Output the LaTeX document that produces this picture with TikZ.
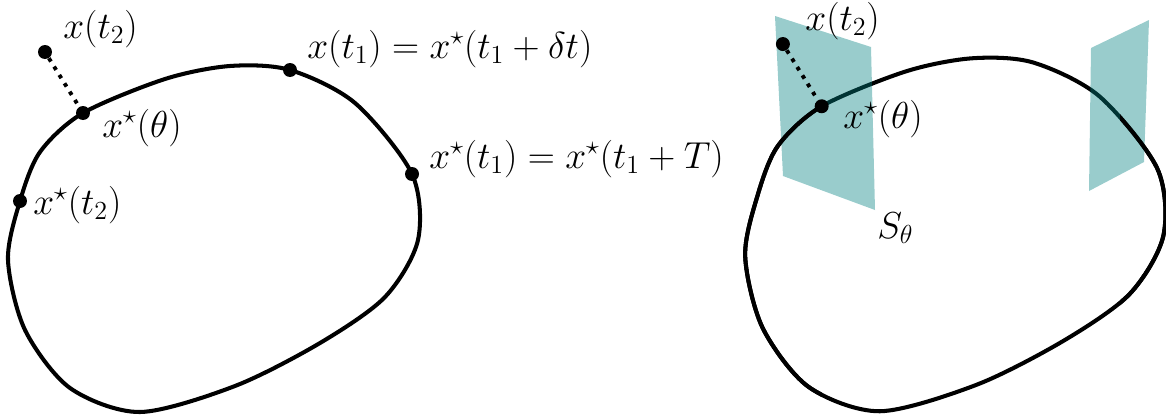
\documentclass[tikz,border=0pt]{standalone}
\tikzset{
  orbitpath/.style={insert path={plot[smooth cycle] coordinates{
    (8,260) (20,201) (40,152) (83,113) (165,79) (230,66) (290,70) (355,103)
    (412,174) (418,240) (385,297) (320,343) (235,386) (140,412) (70,388) (25,330)}}},
  orbit/.style={line width=2.3pt, black},
  dotpt/.style={circle, fill=black, inner sep=0pt, minimum size=0.28cm},
  lab/.style={inner sep=0pt, anchor=base west, font=\huge, scale=1.03, transform shape},
  dotline/.style={line width=2.2pt, dash pattern=on 2.2pt off 3.4pt},
  plane/.style={fill=teal, fill opacity=0.4, draw=none}
}
\begin{document}
\begin{tikzpicture}[x=0.02cm, y=-0.02cm]
\useasboundingbox (0,0) rectangle (1166,416);
% ---------- left ----------
\draw[orbit, orbitpath];
\node[dotpt] (L2s) at (20,201) {};
\node[dotpt] (Lth) at (83,113) {};
\node[dotpt] (Lt1) at (290,70) {};
\node[dotpt] (Lt1s) at (412,174) {};
\node[dotpt] (Lx2) at (45,52) {};
\draw[dotline] (Lx2) -- (Lth);
\node[lab] (lx2) at (63,38) {$x(t_2)$};
\node[lab] (lth) at (102,137) {$x^\star(\theta)$};
\node[lab] (lt2s) at (33,214) {$x^\star(t_2)$};
\node[lab] (lt1) at (307,58) {$x(t_1)=x^\star(t_1+\delta t)$};
\node[lab] (lt1s) at (429,168) {$x^\star(t_1)=x^\star(t_1+T)$};
% ---------- right ----------
\begin{scope}
\clip (0,0) rectangle (1166,416);
\begin{scope}[shift={(737,-9)}, scale=1.02]
\draw[orbit, orbitpath];
\end{scope}
\end{scope}
\fill[plane] (775,16) -- (871,47) -- (875,210) -- (783,176) -- cycle;
\fill[plane] (1091,48) -- (1149,20) -- (1144,162) -- (1089,191) -- cycle;
\begin{scope}
\clip (0,0) rectangle (822,416) (1120,0) rectangle (1166,416);
\begin{scope}[shift={(737,-9)}, scale=1.02]
\draw[orbit, orbitpath];
\end{scope}
\end{scope}
\begin{scope}[shift={(737,-9)}, scale=1.02]
\node[dotpt] (Rth) at (83,113) {};
\node[dotpt] (Rx2) at (45,52) {};
\end{scope}
\draw[dotline] (Rx2) -- (Rth);
\node[lab] (rx2) at (805,30) {$x(t_2)$};
\node[lab] (rth) at (843,128) {$x^\star(\theta)$};
\node[lab] (rs) at (877,238) {$S_\theta$};
\end{tikzpicture}
\end{document}
